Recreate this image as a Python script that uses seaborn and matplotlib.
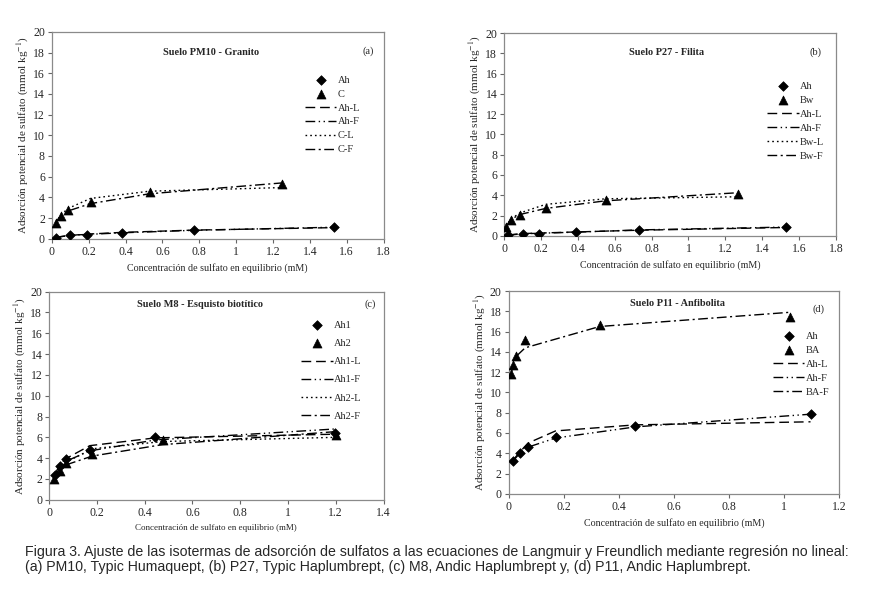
import matplotlib
matplotlib.use("Agg")
import matplotlib.pyplot as plt
from matplotlib.ticker import FuncFormatter, MultipleLocator
import seaborn as sns

# (a) Suelo PM10 - Granito
a_ah_x = [0.02, 0.10, 0.19, 0.38, 0.77, 1.53]
a_ah_y = [0.10, 0.35, 0.40, 0.60, 0.85, 1.15]
a_ah_l = [0.15, 0.33, 0.45, 0.62, 0.84, 1.08]
a_ah_f = [0.12, 0.35, 0.42, 0.58, 0.82, 1.12]
a_c_x = [0.02, 0.05, 0.09, 0.21, 0.53, 1.25]
a_c_y = [1.50, 2.20, 2.75, 3.55, 4.55, 5.25]
a_c_l = [1.55, 2.35, 2.95, 3.90, 4.60, 4.95]
a_c_f = [1.60, 2.20, 2.70, 3.40, 4.35, 5.40]

# (b) Suelo P27 - Filita
b_ah_x = [0.02, 0.10, 0.19, 0.39, 0.73, 1.53]
b_ah_y = [0.05, 0.20, 0.20, 0.35, 0.60, 0.85]
b_ah_l = [0.08, 0.22, 0.27, 0.38, 0.55, 0.82]
b_ah_f = [0.06, 0.20, 0.25, 0.36, 0.58, 0.86]
b_bw_x = [0.01, 0.035, 0.085, 0.225, 0.55, 1.27]
b_bw_y = [0.85, 1.60, 2.05, 2.75, 3.55, 4.10]
b_bw_l = [0.90, 1.65, 2.25, 3.10, 3.65, 3.85]
b_bw_f = [0.85, 1.60, 2.10, 2.70, 3.45, 4.25]

# (c) Suelo M8 - Esquisto biotitico
c_ah1_x = [0.025, 0.045, 0.07, 0.17, 0.445, 1.195]
c_ah1_y = [2.40, 3.20, 3.90, 4.80, 6.05, 6.45]
c_ah1_l = [2.50, 3.40, 3.95, 5.20, 5.95, 6.30]
c_ah1_f = [2.30, 3.10, 3.70, 4.70, 5.75, 6.80]
c_ah2_x = [0.02, 0.045, 0.07, 0.18, 0.475, 1.20]
c_ah2_y = [2.00, 2.80, 3.50, 4.40, 5.70, 6.20]
c_ah2_l = [2.10, 2.90, 3.60, 4.90, 5.60, 6.00]
c_ah2_f = [2.00, 2.75, 3.35, 4.20, 5.30, 6.55]

# (d) Suelo P11 - Anfibolita
d_ah_x = [0.015, 0.04, 0.07, 0.17, 0.46, 1.095]
d_ah_y = [3.20, 4.00, 4.60, 5.60, 6.65, 7.85]
d_ah_l = [3.30, 4.10, 5.00, 6.20, 6.80, 7.10]
d_ah_f = [3.20, 4.00, 4.60, 5.50, 6.60, 7.85]
d_ba_x = [0.01, 0.015, 0.025, 0.06, 0.33, 1.02]
d_ba_y = [11.8, 12.7, 13.6, 15.2, 16.6, 17.4]
d_ba_f = [11.9, 12.6, 13.5, 14.4, 16.5, 17.9]

sns.set_style("ticks")
plt.rcParams['font.family'] = ['Liberation Serif', 'DejaVu Serif']
plt.rcParams['mathtext.fontset'] = 'stix'

L_DASH = (0, (7, 3.5))
F_DASH = (0, (7, 2.5, 1, 2.5, 1, 2.5))
DOT = (0, (1.2, 2.2))
DASHDOT = (0, (7, 2.5, 1.5, 2.5))

fig = plt.figure(figsize=(8.94, 6.0), dpi=100)

def setup(ax, xmax, title, tag, tpos, tagpos, xlsize=7.2):
    ax.set_xlim(0, xmax)
    ax.set_ylim(0, 20)
    ax.xaxis.set_major_locator(MultipleLocator(0.2))
    ax.yaxis.set_major_locator(MultipleLocator(2))
    ax.xaxis.set_major_formatter(FuncFormatter(lambda v, p: f"{v:g}"))
    for s in ax.spines.values():
        s.set_color('#8a8a8a')
        s.set_linewidth(0.9)
    ax.tick_params(axis='both', labelsize=8.5, length=3, width=0.8, color='#666666', pad=2)
    ax.set_xlabel('Concentración de sulfato en equilibrio (mM)', fontsize=xlsize, labelpad=4)
    ax.set_ylabel('Adsorción potencial de sulfato (mmol kg$^{-1}$)', fontsize=8, labelpad=1.5)
    ax.text(tpos[0], tpos[1], title, transform=ax.transAxes, ha='center', va='center',
            fontsize=7.4, fontweight='bold')
    ax.text(tagpos[0], tagpos[1], tag, transform=ax.transAxes, ha='center', va='center', fontsize=7.5)

def pts(ax, x, y, marker, label):
    sz = 24 if marker == 'D' else 42
    sns.scatterplot(x=x, y=y, ax=ax, marker=marker, s=sz, color='black',
                    edgecolor='black', linewidth=0.5, label=label, zorder=3)

def line(ax, x, y, ls, label):
    sns.lineplot(x=x, y=y, ax=ax, color='black', linewidth=1.0, linestyle=ls,
                 label=label, estimator=None, sort=False, zorder=2)

def legend(ax, order, anchor, spacing):
    h, l = ax.get_legend_handles_labels()
    d = dict(zip(l, h))
    ax.legend([d[k] for k in order], order, loc='upper right', bbox_to_anchor=anchor,
              frameon=False, fontsize=7.5, handlelength=3.0, handletextpad=0.15,
              labelspacing=spacing, borderaxespad=0, borderpad=0)

# (a)
ax = fig.add_axes([0.058, 0.602, 0.371, 0.345])
pts(ax, a_ah_x, a_ah_y, 'D', 'Ah')
pts(ax, a_c_x, a_c_y, '^', 'C')
line(ax, a_ah_x, a_ah_l, L_DASH, 'Ah-L')
line(ax, a_ah_x, a_ah_f, F_DASH, 'Ah-F')
line(ax, a_c_x, a_c_l, DOT, 'C-L')
line(ax, a_c_x, a_c_f, DASHDOT, 'C-F')
setup(ax, 1.8, 'Suelo PM10 - Granito', '(a)', (0.48, 0.90), (0.955, 0.905))
legend(ax, ['Ah', 'C', 'Ah-L', 'Ah-F', 'C-L', 'C-F'], (0.93, 0.79), 0.45)

# (b)
ax = fig.add_axes([0.564, 0.607, 0.371, 0.338])
pts(ax, b_ah_x, b_ah_y, 'D', 'Ah')
pts(ax, b_bw_x, b_bw_y, '^', 'Bw')
line(ax, b_ah_x, b_ah_l, L_DASH, 'Ah-L')
line(ax, b_ah_x, b_ah_f, F_DASH, 'Ah-F')
line(ax, b_bw_x, b_bw_l, DOT, 'Bw-L')
line(ax, b_bw_x, b_bw_f, DASHDOT, 'Bw-F')
setup(ax, 1.8, 'Suelo P27 - Filita', '(b)', (0.49, 0.905), (0.94, 0.905))
legend(ax, ['Ah', 'Bw', 'Ah-L', 'Ah-F', 'Bw-L', 'Bw-F'], (0.965, 0.76), 0.45)

# (c)
ax = fig.add_axes([0.055, 0.167, 0.374, 0.347])
pts(ax, c_ah1_x, c_ah1_y, 'D', 'Ah1')
pts(ax, c_ah2_x, c_ah2_y, '^', 'Ah2')
line(ax, c_ah1_x, c_ah1_l, L_DASH, 'Ah1-L')
line(ax, c_ah1_x, c_ah1_f, F_DASH, 'Ah1-F')
line(ax, c_ah2_x, c_ah2_l, DOT, 'Ah2-L')
line(ax, c_ah2_x, c_ah2_f, DASHDOT, 'Ah2-F')
setup(ax, 1.4, 'Suelo M8 - Esquisto biotítico', '(c)', (0.45, 0.94), (0.96, 0.94), xlsize=6.5)
legend(ax, ['Ah1', 'Ah2', 'Ah1-L', 'Ah1-F', 'Ah2-L', 'Ah2-F'], (0.935, 0.86), 0.85)

# (d)
ax = fig.add_axes([0.569, 0.177, 0.370, 0.338])
pts(ax, d_ah_x, d_ah_y, 'D', 'Ah')
pts(ax, d_ba_x, d_ba_y, '^', 'BA')
line(ax, d_ah_x, d_ah_l, L_DASH, 'Ah-L')
line(ax, d_ah_x, d_ah_f, F_DASH, 'Ah-F')
line(ax, d_ba_x, d_ba_f, DASHDOT, 'BA-F')
setup(ax, 1.2, 'Suelo P11 - Anfibolita', '(d)', (0.51, 0.936), (0.937, 0.91))
legend(ax, ['Ah', 'BA', 'Ah-L', 'Ah-F', 'BA-F'], (0.97, 0.80), 0.45)

caption = ("Figura 3. Ajuste de las isotermas de adsorción de sulfatos a las ecuaciones de Langmuir y Freundlich mediante regresión no lineal:\n"
           "(a) PM10, Typic Humaquept, (b) P27, Typic Haplumbrept, (c) M8, Andic Haplumbrept y, (d) P11, Andic Haplumbrept.")
fig.text(0.028, 0.092, caption, fontsize=10.2, family='Liberation Sans',
         ha='left', va='top', linespacing=1.1)

fig.savefig('out.png', dpi=100)
